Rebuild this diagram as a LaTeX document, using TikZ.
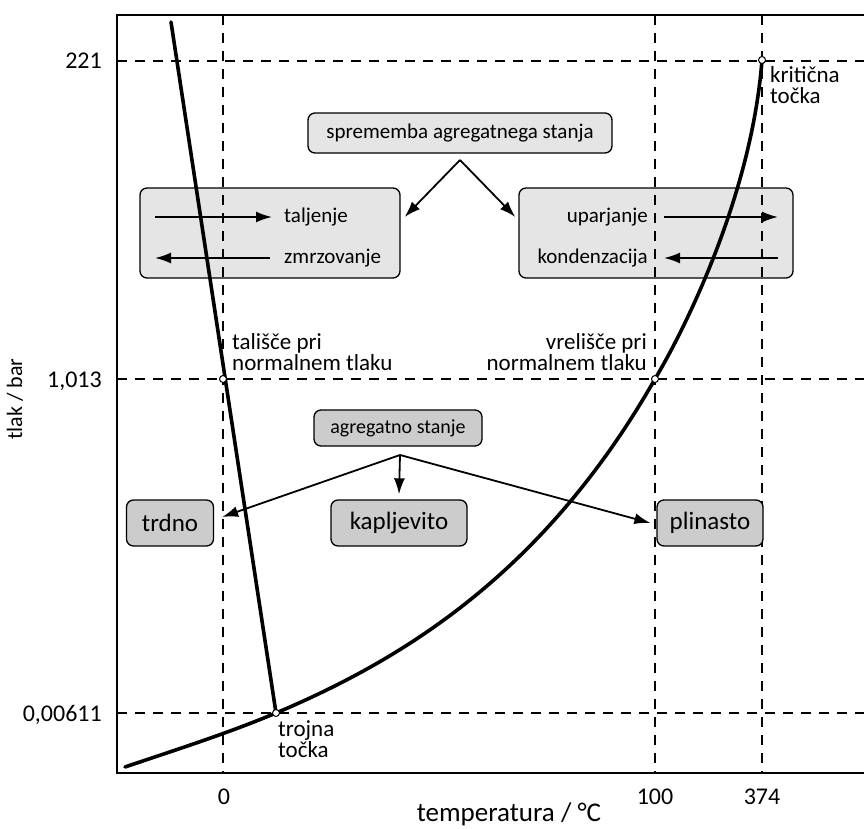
\documentclass[tikz,border=0pt]{standalone}
\usepackage{fontspec}
\setmainfont{Carlito}
\usetikzlibrary{arrows.meta}

\begin{document}
\begin{tikzpicture}[x=1pt, y=-1pt,
  panel/.style={draw, rounded corners=7pt, line width=1.3pt, fill=gray!20},
  tag/.style={panel, font=\fontsize{21}{21}\selectfont, inner sep=0pt},
  phase/.style={panel, fill=gray!40, font=\fontsize{25}{25}\selectfont, inner sep=0pt, minimum height=46pt},
  word/.style={font=\fontsize{21}{21}\selectfont, inner sep=0pt},
  note/.style={font=\fontsize{23}{21}\selectfont, inner sep=0pt},
  ticklbl/.style={font=\fontsize{24}{24}\selectfont, inner sep=0pt},
  guide/.style={line width=1.3pt, dash pattern=on 10pt off 8pt},
  curve/.style={line width=3.6pt, line cap=round, line join=round},
  arr/.style={-{Latex[length=16pt, width=11pt]}, line width=1.8pt},
  dot/.style={circle, draw, fill=white, inner sep=0pt, minimum size=7pt, line width=1pt}]
\useasboundingbox (0,0) rectangle (864,829);

% gray panels behind the lines
\node[panel, minimum width=260pt, minimum height=90pt] (melt) at (270,233) {};
\node[panel, minimum width=274pt, minimum height=90pt] (boil) at (656,233) {};

% grid lines
\draw[guide] (117,61) -- (864,61);
\draw[guide] (117,379) -- (864,379);
\draw[guide] (117,713) -- (864,713);
\draw[guide] (223,15) -- (223,773);
\draw[guide] (655,15) -- (655,773);
\draw[guide] (762,15) -- (762,773);

% frame
\draw[line width=2pt] (864,15) -- (117,15) -- (117,773) -- (864,773);

% ticks
\node[ticklbl, anchor=base east] (p1) at (102,69) {221};
\node[ticklbl, anchor=base east] (p2) at (102,387) {1,013};
\node[ticklbl, anchor=base east] (p3) at (102,721) {0,00611};
\node[ticklbl, anchor=base] (t1) at (224,804) {0};
\node[ticklbl, anchor=base] (t2) at (655,804) {100};
\node[ticklbl, anchor=base] (t3) at (762,804) {374};
\node[ticklbl, font=\fontsize{27}{27}\selectfont, anchor=base] (xlab) at (509,821) {temperatura / °C};
\node[ticklbl, font=\fontsize{22}{22}\selectfont, rotate=90] (ylab) at (15,399) {tlak / bar};

% phase boundaries
\coordinate (triple) at (276,713);
\coordinate (crit) at (762,60);
\coordinate (melting) at (223,379);
\coordinate (boiling) at (655,379);
\draw[curve] (171,22) -- (triple);
\draw[curve] (125,767) .. controls (175,750) and (226,734) .. (triple)
  .. controls (406,658) and (545,571.5) .. (boiling)
  .. controls (690,320) and (752,190) .. (crit);

% point labels
\node[note, anchor=base west, align=left] (mlab) at (232,370) {tališče pri\\normalnem tlaku};
\node[note, anchor=base east, align=right] (blab) at (647,370) {vrelišče pri\\normalnem tlaku};
\node[note, anchor=base west, align=left] (clab) at (770,104) {kritična\\točka};
\node[note, anchor=base west, align=left] (tlab) at (278,757) {trojna\\točka};

% transitions
\node[tag, minimum width=304pt, minimum height=40pt] (change) at (460,133) {sprememba agregatnega stanja};
\coordinate (fork1) at (460,160);
\draw[arr] (fork1) -- ([shift={(4,-16)}]melt.east);
\draw[arr] (fork1) -- ([shift={(-3,-16)}]boil.west);

\node[word, anchor=west] (talj) at (284,217) {taljenje};
\node[word, anchor=west] (zmrz) at (284,258) {zmrzovanje};
\coordinate (talj0) at (155,217);
\coordinate (zmrz0) at (155,258);
\draw[arr] (talj0) -- ([xshift=-12pt]talj.west);
\draw[arr] ([xshift=-14pt]zmrz.west |- zmrz0) -- (zmrz0);

\node[word, anchor=east] (upar) at (648,217) {uparjanje};
\node[word, anchor=east] (kond) at (648,258) {kondenzacija};
\coordinate (upar1) at (778,217);
\coordinate (kond1) at (778,258);
\draw[arr] ([xshift=16pt]upar.east) -- (upar1);
\draw[arr] (kond1) -- ([xshift=16pt]kond.east);

% states
\node[tag, fill=gray!40, font=\fontsize{20}{20}\selectfont, minimum width=168pt, minimum height=36pt] (state) at (398,428) {agregatno stanje};
\coordinate (fork2) at (400,455);
\node[phase, minimum width=87pt] (solid) at (170,523) {trdno};
\node[phase, minimum width=136pt] (liquid) at (399,523) {kapljevito};
\node[phase, minimum width=106pt] (gas) at (710,523) {plinasto};
\draw[arr] (fork2) -- ([yshift=5pt]liquid.north);
\draw[arr] (fork2) -- ([shift={(8,-6)}]solid.east);
\draw[arr] (fork2) -- ([shift={(-6,0)}]gas.west);

% special points
\node[dot] (mm) at (melting) {};
\node[dot] (bb) at (boiling) {};
\node[dot] (tt) at (triple) {};
\node[dot] (cc) at (crit) {};
\end{tikzpicture}
\end{document}
